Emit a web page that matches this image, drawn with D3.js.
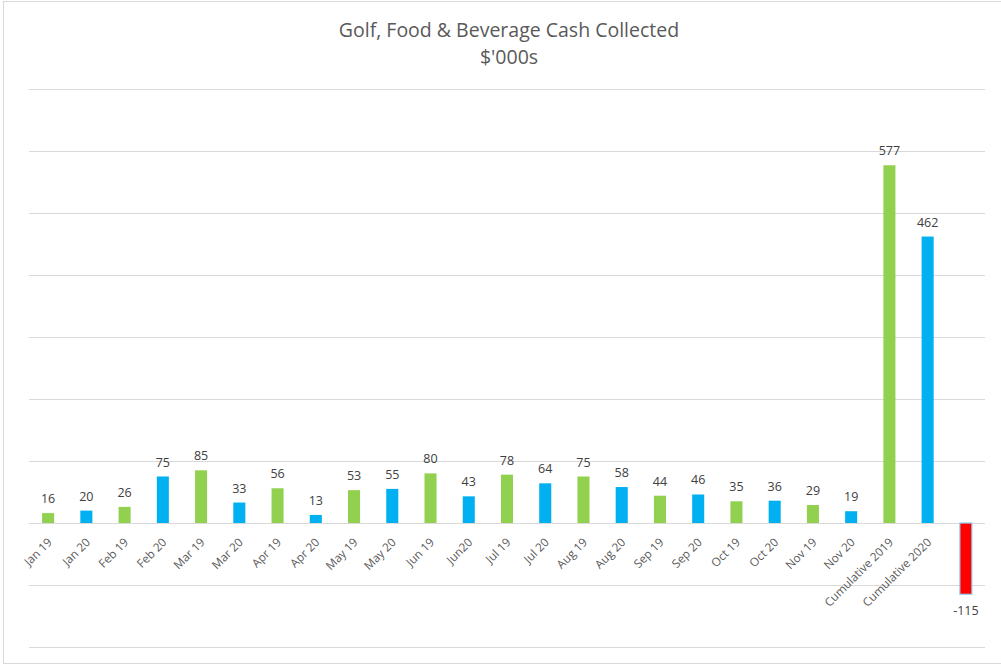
<!DOCTYPE html>
<html>
<head>
<meta charset="utf-8">
<script src="https://cdn.jsdelivr.net/npm/d3@7"></script>
<style>
	body { margin: 0; background: #fff; }
	svg { font-family: "Open Sans", "Noto Sans", sans-serif; }
	.tick-label { fill: #595959; font-size: 11.7px; }
	.value-label { fill: #404040; font-size: 12.5px; }
	.title { fill: #595959; font-size: 19.5px; }
</style>
</head>
<body>
<svg id="chart" width="1001" height="666"></svg>
<script>
// months then the two cumulative totals, last bar is the difference
const categories = [
	"Jan 19", "Jan 20", "Feb 19", "Feb 20", "Mar 19", "Mar 20", "Apr 19", "Apr 20",
	"May 19", "May 20", "Jun 19", "Jun20", "Jul 19", "Jul 20", "Aug 19", "Aug 20",
	"Sep 19", "Sep 20", "Oct 19", "Oct 20", "Nov 19", "Nov 20",
	"Cumulative 2019", "Cumulative 2020", ""
];
const values = [
	16, 20, 26, 75, 85, 33, 56, 13,
	53, 55, 80, 43, 78, 64, 75, 58,
	44, 46, 35, 36, 29, 19,
	577, 462, -115
];
// which year / kind each bar belongs to
const kinds = [
	"y19", "y20", "y19", "y20", "y19", "y20", "y19", "y20",
	"y19", "y20", "y19", "y20", "y19", "y20", "y19", "y20",
	"y19", "y20", "y19", "y20", "y19", "y20",
	"y19", "y20", "diff"
];
const gridTicks = [-200, -100, 0, 100, 200, 300, 400, 500, 600, 700];

const colors = { y19: "#92D050", y20: "#00B0F0", diff: "#FF0000" };

const svg = d3.select("svg#chart");
const width = 1001, height = 666;

const plot = { left: 29, right: 985, top: 89, bottom: 647 };

// chart area border
svg.append("rect")
	.attr("x", 3.5).attr("y", 1.5)
	.attr("width", width + 10).attr("height", 662)
	.attr("fill", "none")
	.attr("stroke", "#d9d9d9");

const x = d3.scaleBand()
	.domain(d3.range(categories.length))
	.range([plot.left, plot.right])
	.paddingInner(0.685)
	.paddingOuter(0.3425);

const y = d3.scaleLinear()
	.domain([-200, 700])
	.range([plot.bottom, plot.top]);

// gridlines
svg.append("g")
	.selectAll("line")
	.data(gridTicks)
	.join("line")
	.attr("x1", plot.left).attr("x2", plot.right)
	.attr("y1", (d) => Math.round(y(d)) + 0.5)
	.attr("y2", (d) => Math.round(y(d)) + 0.5)
	.attr("stroke", "#d9d9d9")
	.attr("stroke-width", 1);

// bars
svg.append("g")
	.selectAll("rect")
	.data(values)
	.join("rect")
	.attr("x", (d, i) => x(i))
	.attr("width", x.bandwidth())
	.attr("y", (d) => y(Math.max(0, d)))
	.attr("height", (d) => Math.abs(y(d) - y(0)))
	.attr("fill", (d, i) => colors[kinds[i]])
	.attr("stroke", (d, i) => (kinds[i] === "diff" ? "#8fd3f5" : "none"))
	.attr("stroke-width", 1.2);

// value labels
svg.append("g")
	.selectAll("text")
	.data(values)
	.join("text")
	.classed("value-label", true)
	.attr("x", (d, i) => x(i) + x.bandwidth() / 2)
	.attr("y", (d) => (d >= 0 ? y(d) - 10 : y(d) + 21))
	.attr("text-anchor", "middle")
	.text((d) => d);

// category labels, rotated
const xAxis = svg.append("g");
xAxis.selectAll("text")
	.data(categories)
	.join("text")
	.classed("tick-label", true)
	.attr("text-anchor", "end")
	.attr("transform", (d, i) => {
		let cx = x(i) + x.bandwidth() / 2 + 4.5;
		let cy = y(0) + 20;
		return `translate(${cx}, ${cy}) rotate(-45)`;
	})
	.text((d) => d);

// title
const title = svg.append("text")
	.classed("title", true)
	.attr("text-anchor", "middle")
	.attr("x", 509);
title.append("tspan").attr("x", 509).attr("y", 37).text("Golf, Food & Beverage Cash Collected");
title.append("tspan").attr("x", 509).attr("y", 64).text("$'000s");
</script>
</body>
</html>
